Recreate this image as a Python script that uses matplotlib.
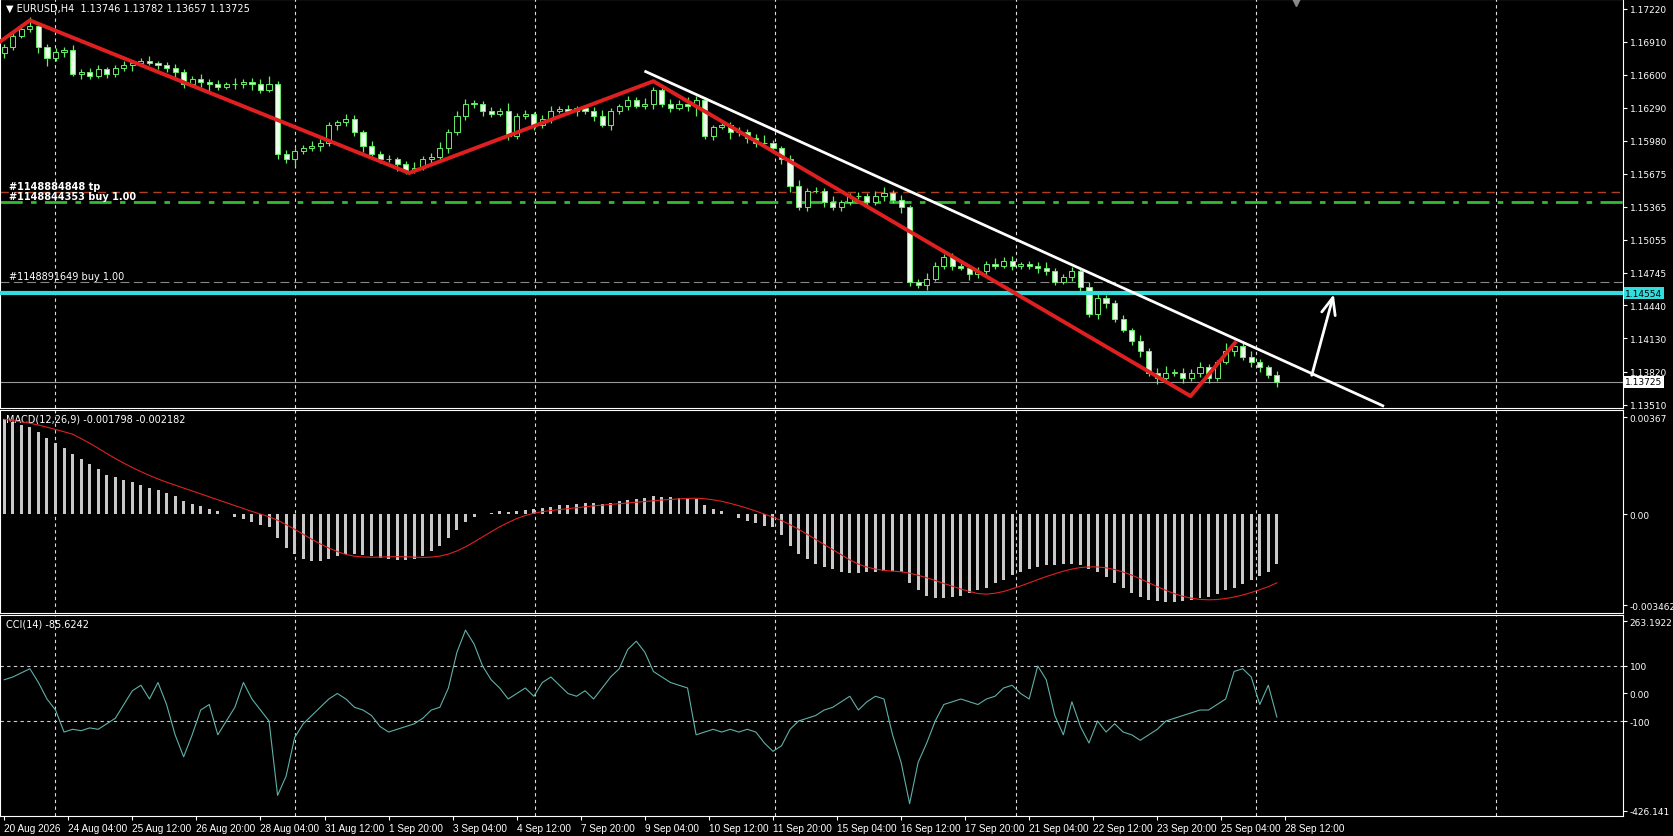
import matplotlib
matplotlib.use("Agg")
import matplotlib.pyplot as plt
import numpy as np

closes = [1.1686,1.1696,1.1703,1.1706,1.1686,1.1676,1.1681,1.1683,1.1661,1.1663,
1.1659,1.1665,1.1661,1.1666,1.1669,1.1671,1.1673,1.1671,1.1669,1.1666,
1.1663,1.1651,1.1656,1.1653,1.1651,1.1649,1.1651,1.1651,1.1653,1.1651,
1.1646,1.1651,1.1586,1.1581,1.1589,1.1591,1.1593,1.1596,1.1613,1.1616,
1.1619,1.1606,1.1593,1.1586,1.1581,1.1581,1.1576,1.1571,1.1573,1.1581,
1.1583,1.1591,1.1606,1.1621,1.1633,1.1633,1.1626,1.1623,1.1626,1.1603,
1.1621,1.1623,1.1613,1.1619,1.1626,1.1628,1.1626,1.1629,1.1626,1.1621,
1.1613,1.1626,1.1631,1.1636,1.1631,1.1633,1.1646,1.1633,1.1629,1.1633,
1.1631,1.1636,1.1603,1.1611,1.1613,1.1606,1.1606,1.1601,1.1596,1.1596,
1.1591,1.1581,1.1556,1.1536,1.1551,1.1551,1.1541,1.1536,1.1541,1.1546,
1.1546,1.1541,1.1546,1.1549,1.1543,1.1536,1.1466,1.1463,1.1469,1.1481,
1.1489,1.1481,1.1479,1.1473,1.1476,1.1483,1.1481,1.1486,1.1481,1.1483,
1.1481,1.1479,1.1476,1.1466,1.1471,1.1476,1.1461,1.1436,1.1451,1.1446,
1.1431,1.1421,1.1411,1.1401,1.1381,1.1376,1.1381,1.1381,1.1376,1.1381,
1.1386,1.1376,1.1391,1.1401,1.1406,1.1396,1.1391,1.1386,1.1379,1.13725]
first_open = 1.1680
wick_up = [3,4,5,8,2,3,4,3,5,2,3,4,2,3,4,2,3,5,2,3,4,2,3,5,3,4,2,6,3,4,
5,8,3,4,2,3,5,4,3,2,4,3,2,5,3,4,2,3,5,3,4,6,3,5,4,3,2,4,3,8,
3,4,2,3,5,3,4,2,3,4,6,3,2,4,3,5,3,2,4,3,6,4,3,2,4,3,5,3,4,8,
3,2,4,5,3,4,3,5,2,3,4,3,5,6,3,4,2,3,5,4,3,4,3,2,4,3,5,3,4,2,
3,4,6,3,2,4,3,5,4,3,3,4,2,5,3,4,6,3,4,3,5,3,2,8,4,3,5,3,2,4]
wick_dn = [4,3,2,3,6,8,3,4,2,5,3,2,4,3,2,5,3,2,4,3,5,3,2,4,6,3,2,4,3,5,
3,2,5,4,6,3,2,4,3,5,4,3,5,2,4,3,6,4,3,2,5,3,4,2,3,4,5,3,2,4,
3,2,5,3,4,2,3,5,3,4,2,5,3,4,2,3,5,3,4,2,5,10,3,4,2,6,3,5,4,3,
4,5,6,3,4,2,5,3,4,3,2,5,3,4,3,5,4,3,5,2,3,4,2,5,3,4,3,2,4,3,
3,5,4,3,2,4,6,3,5,4,3,2,4,5,3,6,4,3,5,3,4,5,3,2,4,3,5,4,3,5]
macd_hist = [36,35,34,33,31,29,27,25,23,21,19,17,15,14,13,12,11,10,9,8,
7,5,4,3,2,1,0,-1,-2,-3,-4,-5,-9,-13,-15,-17,-18,-18,-17,-16,
-15,-15,-15.5,-16,-16.5,-17,-17.5,-17.5,-17,-16,-14,-12,-9,-6,-3,-1,0,0.5,1,0.8,
1.2,1.5,2,2.3,2.8,3.3,3.6,4,4.3,4.3,4,4.3,4.8,5.3,5.8,6.2,6.8,6.5,6.3,6,
5.8,5.6,3.5,2,1,0,-1.5,-2.5,-3.5,-4.5,-5,-8,-12,-15,-17,-19,-20,-21,-22,-22.5,
-22.5,-22,-22,-21.5,-21.5,-22,-26,-29,-31,-32,-32,-31.5,-31,-30,-29,-28,-26,-25,-23,-22,
-21,-20,-19.5,-19.5,-19,-19,-19.5,-21,-22,-24,-26,-28,-30,-31.5,-32.5,-33,-33.5,-33.5,-33,-32.5,
-32,-31.5,-30.5,-29,-28,-26.5,-25,-23.5,-22,-19]
cci_vals = [50,60,75,90,40,-20,-60,-140,-130,-135,-125,-130,-110,-90,-40,10,30,-20,40,-40,
-150,-230,-150,-60,-40,-150,-100,-50,40,-20,-60,-100,-370,-300,-160,-110,-80,-50,-20,0,
-20,-50,-60,-80,-120,-140,-130,-120,-110,-90,-60,-50,20,150,230,180,100,50,20,-20,
0,20,-10,40,60,30,0,-10,10,-20,20,60,90,160,190,150,80,60,40,30,
20,-150,-140,-130,-140,-130,-140,-130,-140,-180,-210,-190,-130,-100,-90,-80,-60,-50,-30,-10,
-60,-30,-10,-20,-150,-250,-400,-250,-180,-100,-40,-30,-20,-30,-40,-20,-10,20,30,0,
-20,100,50,-80,-150,-30,-120,-180,-100,-140,-110,-140,-150,-170,-150,-130,-100,-90,-80,-70,
-60,-60,-40,-20,80,90,60,-40,30,-85.6]
zig_x = [-0.5, 3, 47.4, 76, 138.9, 144.1]
zig_y = [1.1691, 1.1711, 1.1568, 1.1654, 1.1359, 1.1409]
trend_x = [75.1, 161.4]
trend_y = [1.1663, 1.1350]
arrow_from = (153.0, 1.1376)
arrow_to = (155.75, 1.1457)
price_ticks = [1.17220,1.16910,1.16600,1.16290,1.15980,1.15675,1.15365,1.15055,
               1.14745,1.14440,1.14130,1.13820,1.13510]
date_labels = ["20 Aug 2026","24 Aug 04:00","25 Aug 12:00","26 Aug 20:00","28 Aug 04:00",
"31 Aug 12:00","1 Sep 20:00","3 Sep 04:00","4 Sep 12:00","7 Sep 20:00","9 Sep 04:00",
"10 Sep 12:00","11 Sep 20:00","15 Sep 04:00","16 Sep 12:00","17 Sep 20:00","21 Sep 04:00",
"22 Sep 12:00","23 Sep 20:00","25 Sep 04:00","28 Sep 12:00"]
cyan_level = 1.14554
bid_level = 1.13725

N = min(len(closes), len(wick_up), len(wick_dn))
c = np.array(closes[:N]); o = np.concatenate([[first_open], c[:-1]])
hi = np.maximum(o, c) + np.array(wick_up[:N]) * 1e-4
lo = np.minimum(o, c) - np.array(wick_dn[:N]) * 1e-4
x = np.arange(N)

BG = "black"; FG = "white"; GREEN = "#66ee66"
YFS = 6.5
fig = plt.figure(figsize=(16.74, 8.37), dpi=100, facecolor=BG)
W = 0.9694
axm = fig.add_axes([0.0, 0.5115, W, 0.4885], facecolor=BG)
axd = fig.add_axes([0.0, 0.2666, W, 0.2423], facecolor=BG, sharex=axm)
axc = fig.add_axes([0.0, 0.0242, W, 0.2398], facecolor=BG, sharex=axm)
XMAX = 1520/8 - 0.5
for a in (axm, axd, axc):
    a.set_xlim(-0.5, XMAX)
    for s in a.spines.values():
        s.set_color(FG); s.set_linewidth(0.8)
    a.yaxis.tick_right()
    a.tick_params(axis="y", colors=FG, labelsize=YFS, length=3, pad=2)
    a.tick_params(axis="x", colors=FG, labelsize=7.2, length=3, pad=2)
    for gx in 5.9 + 28.125*np.arange(7):
        a.axvline(gx, color="#dddddd", lw=0.8, ls=(0, (3, 3)), zorder=0)
axm.tick_params(axis="x", labelbottom=False, length=0)
axd.tick_params(axis="x", labelbottom=False, length=0)

# main
axm.set_ylim(1.1348, 1.1731)
axm.set_yticks(price_ticks)
axm.set_yticklabels([f"{v:.5f}" for v in price_ticks])
axm.vlines(x, lo, hi, color=GREEN, lw=0.9, zorder=3)
bear = c < o
bot = np.minimum(o, c); hgt = np.maximum(np.abs(c - o), 0.00003)
axm.bar(x[bear], hgt[bear], bottom=bot[bear], width=0.6, color="#eaffea", edgecolor=GREEN, lw=0.7, zorder=4)
axm.bar(x[~bear], hgt[~bear], bottom=bot[~bear], width=0.6, color=BG, edgecolor=GREEN, lw=0.7, zorder=4)
axm.axhline(1.1550, color="#b04020", lw=1, ls=(0, (6, 4)), zorder=2)
axm.axhline(1.1541, color="#33bb33", lw=2, ls=(0, (8, 3, 2, 3)), zorder=2)
axm.axhline(1.1466, color="#888888", lw=0.8, ls=(0, (8, 4)), zorder=2)
axm.axhline(cyan_level, color="#33dddd", lw=3, zorder=5)
axm.axhline(bid_level, color="#999999", lw=0.8, zorder=2)
axm.plot(zig_x, zig_y, color="#e02020", lw=2.8, zorder=6)
axm.plot(trend_x, trend_y, color="white", lw=2, zorder=6)
axm.annotate("", xy=arrow_to, xytext=arrow_from,
             arrowprops=dict(arrowstyle="->,head_length=1.2,head_width=0.5", color="white", lw=2), zorder=7)
axm.text(0.004, 0.99, "\u25bc EURUSD,H4  1.13746 1.13782 1.13657 1.13725", transform=axm.transAxes,
         color=FG, fontsize=7, va="top")
axm.text(0.5, 1.1551, "#1148884848 tp", color=FG, fontsize=7, va="bottom", fontweight="bold")
axm.text(0.5, 1.1542, "#1148844353 buy 1.00", color=FG, fontsize=7, va="bottom", fontweight="bold")
axm.text(0.5, 1.1467, "#1148891649 buy 1.00", color=FG, fontsize=7, va="bottom")
axm.text(1.0015, cyan_level, f"{cyan_level:.5f}", transform=axm.get_yaxis_transform(), color="black",
         fontsize=YFS, va="center", bbox=dict(boxstyle="square,pad=0.15", fc="#33dddd", ec="none"))
axm.text(1.0015, bid_level, f"{bid_level:.5f}", transform=axm.get_yaxis_transform(), color="black",
         fontsize=YFS, va="center", bbox=dict(boxstyle="square,pad=0.15", fc="white", ec="none"))
axm.plot([151.2], [1.1728], marker="v", color="#888888", ms=6, clip_on=False)

# MACD
hist = np.array(macd_hist[:N]) * 1e-4
sig = np.array([hist[max(0, i-8):i+1].mean() for i in range(len(hist))])
axd.set_ylim(-0.00375, 0.00395)
axd.bar(np.arange(len(hist)), hist, width=0.35, color="#c8c8c8", zorder=3)
axd.plot(np.arange(len(sig)), sig, color="#dd2222", lw=0.8, zorder=4)
axd.set_yticks([0.00367, 0.0, -0.003462]); axd.set_yticklabels(["0.00367", "0.00", "-0.003462"])
axd.text(0.004, 0.985, "MACD(12,26,9) -0.001798 -0.002182", transform=axd.transAxes, color=FG, fontsize=7, va="top")

# CCI
cc = np.array(cci_vals[:N])
axc.set_ylim(-444, 285)
axc.plot(np.arange(len(cc)), cc, color="#5fb0a8", lw=0.8, zorder=3)
for lv in (100, -100):
    axc.axhline(lv, color="#cccccc", lw=0.8, ls=(0, (3, 3)), zorder=1)
axc.set_yticks([263.1922, 100, 0, -100, -426.141])
axc.set_yticklabels(["263.1922", "100", "0.00", "-100", "-426.141"])
axc.text(0.004, 0.985, "CCI(14) -85.6242", transform=axc.transAxes, color=FG, fontsize=7, va="top")
pos = np.arange(len(date_labels)) * 7.5
axc.set_xticks(pos)
axc.set_xticklabels(date_labels, ha="left", family=["Liberation Sans", "DejaVu Sans"])

fig.savefig("out.png", dpi=100, facecolor=BG)
